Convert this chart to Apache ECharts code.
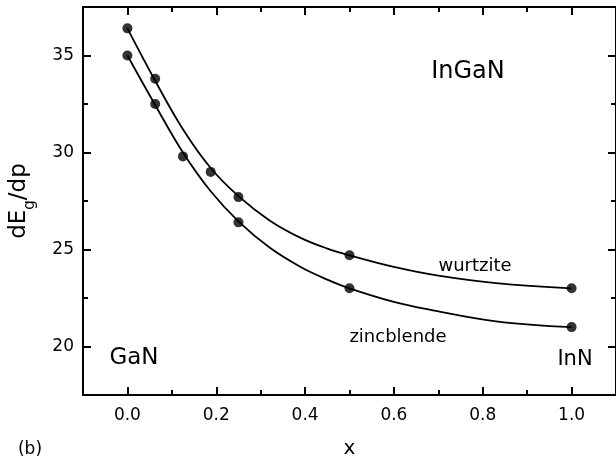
<!DOCTYPE html>
<html>
<head>
<meta charset="utf-8">
<script src="https://cdn.jsdelivr.net/npm/echarts@6/dist/echarts.min.js"></script>
<style>html,body{margin:0;padding:0;background:#fff;}#c{width:616px;height:464px;}</style>
</head>
<body>
<div id="c"></div>
<script>
// measured data points
const xWurtzite = [0, 0.0625, 0.1875, 0.25, 0.5, 1.0];
const yWurtzite = [36.4, 33.8, 29.0, 27.7, 24.7, 23.0];
const xZincblende = [0, 0.0625, 0.125, 0.25, 0.5, 1.0];
const yZincblende = [35.0, 32.5, 29.8, 26.4, 23.0, 21.0];
// fitted curves
const xWurtziteFit = [0, 0.0625, 0.125, 0.1875, 0.25, 0.32, 0.39, 0.45, 0.5, 0.6, 0.7, 0.83, 1.0];
const yWurtziteFit = [36.4, 33.7, 31.2, 29.2, 27.75, 26.5, 25.6, 25.05, 24.7, 24.1, 23.65, 23.27, 23.0];
const xZincblendeFit = [0, 0.0625, 0.125, 0.1875, 0.25, 0.32, 0.39, 0.45, 0.5, 0.6, 0.68, 0.83, 1.0];
const yZincblendeFit = [35.0, 32.45, 30.0, 28.0, 26.45, 25.1, 24.1, 23.45, 23.0, 22.3, 21.9, 21.3, 21.0];
// ticks
const xMajorTicks = [0, 0.2, 0.4, 0.6, 0.8, 1.0];
const xMinorTicks = [0.1, 0.3, 0.5, 0.7, 0.9];
const yMajorTicks = [20, 25, 30, 35];
const yMinorTicks = [22.5, 27.5, 32.5];

const FONT = 'DejaVu Sans, Liberation Sans, Arial, sans-serif';
const chart = echarts.init(document.getElementById('c'), null, {renderer: 'canvas'});

function xAx(pos, ticks, len, showLine, showLabel) {
  return {
    type: 'value', position: pos, min: -0.1, max: 1.1,
    axisLine: {show: showLine, onZero: false, lineStyle: {color: '#000', width: 2}},
    axisTick: {show: true, inside: true, length: len, customValues: ticks, lineStyle: {color: '#000', width: 2}},
    axisLabel: {show: showLabel, customValues: ticks, formatter: v => v.toFixed(1), color: '#000', fontSize: 17, fontFamily: FONT, margin: 12},
    splitLine: {show: false}
  };
}
function yAx(pos, ticks, len, showLine, showLabel) {
  return {
    type: 'value', position: pos, min: 17.5, max: 37.5,
    axisLine: {show: showLine, onZero: false, lineStyle: {color: '#000', width: 2}},
    axisTick: {show: true, inside: true, length: len, customValues: ticks, lineStyle: {color: '#000', width: 2}},
    axisLabel: {show: showLabel, customValues: ticks, formatter: v => String(v), color: '#000', fontSize: 17, fontFamily: FONT, margin: 9},
    splitLine: {show: false}
  };
}

const xAxes = [
  xAx('bottom', xMajorTicks, 8, true, true),
  xAx('bottom', xMinorTicks, 5, false, false),
  xAx('top', xMajorTicks, 8, true, false),
  xAx('top', xMinorTicks, 5, false, false)
];
xAxes[0].name = 'x';
xAxes[0].nameLocation = 'middle';
xAxes[0].nameGap = 44;
xAxes[0].nameTextStyle = {color: '#000', fontSize: 20, fontFamily: FONT};

const yAxes = [
  yAx('left', yMajorTicks, 8, true, true),
  yAx('left', yMinorTicks, 5, false, false),
  yAx('right', yMajorTicks, 8, true, false),
  yAx('right', yMinorTicks, 5, false, false)
];
yAxes[0].name = '{a|dE}{s|g}{a|/dp}';
yAxes[0].nameLocation = 'middle';
yAxes[0].nameGap = 52;
yAxes[0].nameRotate = 90;
yAxes[0].nameTextStyle = {
  color: '#000', fontFamily: FONT,
  rich: {
    a: {fontSize: 23, fontFamily: FONT, color: '#000'},
    s: {fontSize: 15, fontFamily: FONT, color: '#000', verticalAlign: 'bottom', padding: [0, 0, -7, 0]}
  }
};

function pairs(xs, ys) { return xs.map((x, i) => [x, ys[i]]); }

const lineStyle = {color: '#000', width: 1.8};
const itemStyle = {color: '#000'};

chart.setOption({
  animation: false,
  backgroundColor: '#fff',
  grid: {left: 83, top: 7, width: 534, height: 392, containLabel: false},
  xAxis: xAxes,
  yAxis: yAxes,
  series: [
    {name: 'wurtzite fit', type: 'line', data: pairs(xWurtziteFit, yWurtziteFit),
     smooth: 0.4, showSymbol: false, symbol: 'none', lineStyle, z: 2},
    {name: 'zincblende fit', type: 'line', data: pairs(xZincblendeFit, yZincblendeFit),
     smooth: 0.4, showSymbol: false, symbol: 'none', lineStyle, z: 2},
    {name: 'wurtzite', type: 'scatter', data: pairs(xWurtzite, yWurtzite),
     symbol: 'circle', symbolSize: 10, itemStyle, z: 3},
    {name: 'zincblende', type: 'scatter', data: pairs(xZincblende, yZincblende),
     symbol: 'circle', symbolSize: 10, itemStyle, z: 3}
  ],
  graphic: [
    {type: 'text', x: 468, y: 72, style: {text: 'InGaN', fontSize: 24, fontFamily: FONT, fill: '#000', textAlign: 'center', textVerticalAlign: 'middle'}},
    {type: 'text', x: 134, y: 358, style: {text: 'GaN', fontSize: 23, fontFamily: FONT, fill: '#000', textAlign: 'center', textVerticalAlign: 'middle'}},
    {type: 'text', x: 575, y: 360, style: {text: 'InN', fontSize: 21, fontFamily: FONT, fill: '#000', textAlign: 'center', textVerticalAlign: 'middle'}},
    {type: 'text', x: 475, y: 266, style: {text: 'wurtzite', fontSize: 18, fontFamily: FONT, fill: '#000', textAlign: 'center', textVerticalAlign: 'middle'}},
    {type: 'text', x: 398, y: 337, style: {text: 'zincblende', fontSize: 18, fontFamily: FONT, fill: '#000', textAlign: 'center', textVerticalAlign: 'middle'}},
    {type: 'text', x: 30, y: 450, style: {text: '(b)', fontSize: 17, fontFamily: FONT, fill: '#000', textAlign: 'center', textVerticalAlign: 'middle'}}
  ]
});
</script>
</body>
</html>
